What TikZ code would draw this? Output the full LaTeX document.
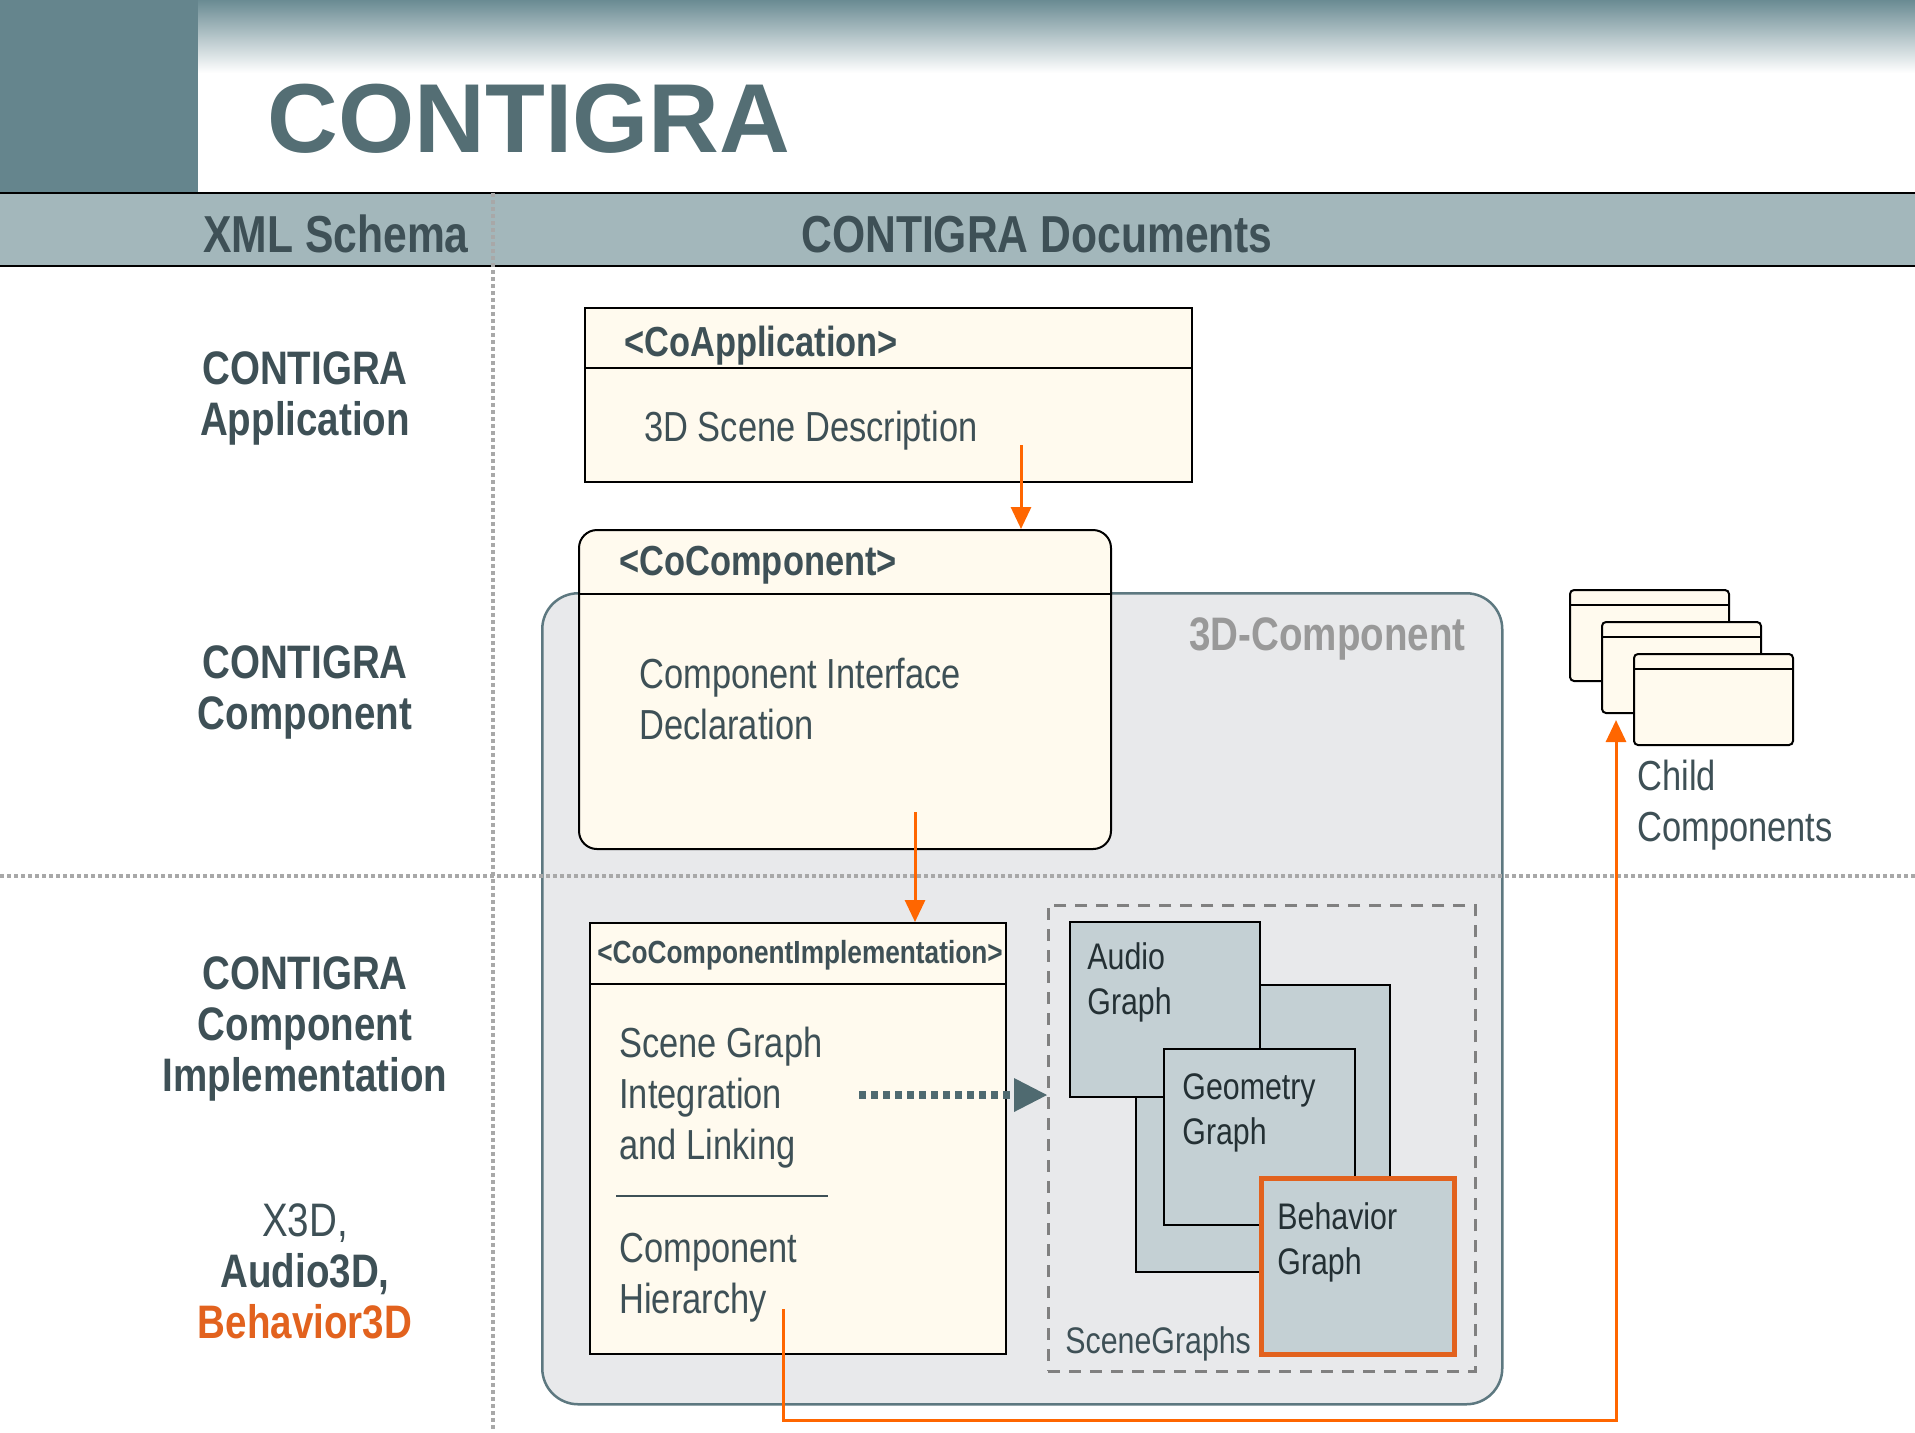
\documentclass[tikz,border=0pt]{standalone}
\usepackage{fontspec}
\setmainfont{Liberation Sans}
\newfontfamily\narrowfont[FakeStretch=0.82]{Liberation Sans}
\usepackage{tikz}
\usetikzlibrary{arrows.meta, positioning}

\definecolor{blockteal}{HTML}{65858D}
\definecolor{gradteal}{HTML}{6A8B93}
\definecolor{bandteal}{HTML}{A3B7BB}
\definecolor{titleteal}{HTML}{546E74}
\definecolor{textdark}{HTML}{3E5056}
\definecolor{cream}{HTML}{FFFAEE}
\definecolor{compgray}{HTML}{E8E9EB}
\definecolor{compborder}{HTML}{5D7880}
\definecolor{graphfill}{HTML}{C4D0D4}
\definecolor{graphtext}{HTML}{243034}
\definecolor{orangeline}{HTML}{FF6600}
\definecolor{behaviororange}{HTML}{E2621E}
\definecolor{dotgray}{HTML}{A8A8A8}
\definecolor{dashgray}{HTML}{808080}
\definecolor{labelgray}{HTML}{999999}
\definecolor{linkteal}{HTML}{4F6A70}

\begin{document}
\begin{tikzpicture}[x=0.5pt, y=-0.5pt]

    % Define styles for the nodes
    \tikzstyle{docbox} = [
        rectangle, draw=black, line width=1pt, fill=cream,
        anchor=north west, inner sep=0pt
    ]
    \tikzstyle{graphbox} = [
        rectangle, draw=black, line width=1pt, fill=graphfill,
        anchor=north west, inner sep=0pt
    ]
    \tikzstyle{childbox} = [
        docbox, rounded corners=2pt, minimum width=79.5pt, minimum height=45.5pt
    ]
    \tikzstyle{boxhead} = [
        anchor=west, inner sep=0pt, text=textdark,
        font=\narrowfont\bfseries\fontsize{21}{25.5}\selectfont
    ]
    \tikzstyle{boxtext} = [
        anchor=west, inner sep=0pt, align=left, text=textdark,
        font=\narrowfont\fontsize{21}{25.5}\selectfont
    ]
    \tikzstyle{graphlabel} = [
        anchor=west, inner sep=0pt, align=left, text=graphtext,
        font=\narrowfont\fontsize{18.5}{22.5}\selectfont
    ]
    \tikzstyle{rowlabel} = [
        inner sep=0pt, align=center, text=textdark,
        font=\narrowfont\bfseries\fontsize{23.5}{25.5}\selectfont
    ]
    \tikzstyle{colhead} = [
        anchor=base, inner sep=0pt, text=textdark,
        font=\narrowfont\bfseries\fontsize{26}{30}\selectfont
    ]
    \tikzstyle{gridline} = [draw=dotgray, line width=2pt, dash pattern=on 2pt off 1.5pt]
    \tikzstyle{arrow} = [draw=orangeline, line width=1.5pt, -{Triangle[length=11pt, width=10pt]}]
    \tikzstyle{linkarrow} = [
        draw=linkteal, line width=4pt, dash pattern=on 3.5pt off 2.5pt,
        -{Triangle[length=16.5pt, width=17pt, line width=0pt]}
    ]

    \useasboundingbox [fill=white] (0,0) rectangle (1915,1432);

    % Title bar
    \shade [top color=gradteal, bottom color=white] (198,0) rectangle (1915,73);
    \fill [blockteal] (0,0) rectangle (198,193);
    \node (title) [anchor=base west, inner sep=0pt, text=titleteal,
        font=\bfseries\fontsize{49}{58}\selectfont] at (267,152) {CONTIGRA};

    % Column headers
    \fill [bandteal] (0,193) rectangle (1915,266);
    \draw [line width=1.25pt] (0,193) -- (1915,193);
    \draw [line width=1pt] (0,266) -- (1915,266);
    \node (schemahead) [colhead] at (336,252) {XML Schema};
    \node (dochead) [colhead] at (1037,252) {CONTIGRA Documents};
    \draw [gridline] (493,193) -- (493,1432);

    % Row labels
    \node (lblapp) [rowlabel] at (305,398) {CONTIGRA\\Application};
    \node (lblcomp) [rowlabel] at (305,692) {CONTIGRA\\Component};
    \node (lblimpl) [rowlabel] at (305,1029) {CONTIGRA\\Component\\Implementation};
    \node (lblformats) [rowlabel] at (305,1271)
        {{\mdseries X3D,}\\Audio3D,\\\textcolor{behaviororange}{Behavior3D}};

    % 3D component frame
    \node (comp3d) [rectangle, rounded corners=18pt, draw=compborder, line width=1.25pt,
        fill=compgray, anchor=north west, minimum width=480pt, minimum height=405.5pt]
        at (541,592) {};
    \node (complabel) [anchor=east, inner sep=0pt, text=labelgray,
        font=\narrowfont\bfseries\fontsize{23.5}{27}\selectfont] at (1466,639) {3D-Component};
    \draw [gridline] (0,876) -- (1915,876);

    % Documents
    \node (coapp) [docbox, minimum width=303.5pt, minimum height=87pt] at (584,307) {};
    \draw [line width=1pt] ([yshift=-30.5pt]coapp.north west) -- ([yshift=-30.5pt]coapp.north east);
    \node (apphead) [boxhead] at (624,346) {<CoApplication>};
    \node (apptext) [boxtext] at (644,431) {3D Scene Description};

    \node (cocomp) [docbox, rounded corners=9pt, minimum width=266pt, minimum height=159.5pt]
        at (578,529) {};
    \draw [line width=1pt] ([yshift=-32.5pt]cocomp.north west) -- ([yshift=-32.5pt]cocomp.north east);
    \node (comphead) [boxhead] at (619,565) {<CoComponent>};
    \node (comptext) [boxtext] at (639,698.5) {Component Interface\\Declaration};

    \node (impl) [docbox, minimum width=208pt, minimum height=215.5pt] at (589,922) {};
    \draw [line width=1pt] ([yshift=-31pt]impl.north west) -- ([yshift=-31pt]impl.north east);
    \node (implhead) [boxhead, font=\narrowfont\bfseries\fontsize{16}{19}\selectfont]
        at (597,955) {<CoComponentImplementation>};
    \node (impltext) [boxtext] at (619,1098) {Scene Graph\\Integration\\and Linking};
    \draw [draw=textdark, line width=1pt] (616,1196) -- (828,1196);
    \node (hiertext) [boxtext] at (619,1278) {Component\\Hierarchy};

    % Scene graphs
    \node (scenes) [rectangle, draw=dashgray, line width=1.25pt, dash pattern=on 6pt off 4.5pt,
        anchor=north west, minimum width=213.5pt, minimum height=233pt] at (1047,904) {};
    \node (sceneslabel) [graphlabel, text=textdark] at (1065,1344) {SceneGraphs};
    \node (backgraph) [graphbox, minimum width=127pt, minimum height=143.5pt] at (1135,984) {};
    \node (audio) [graphbox, minimum width=95pt, minimum height=87.5pt] at (1069,921) {};
    \node (audiotext) [graphlabel] at (1087,982) {Audio\\Graph};
    \node (geometry) [graphbox, minimum width=95.5pt, minimum height=88pt] at (1163,1048) {};
    \node (geometrytext) [graphlabel] at (1182,1113) {Geometry\\Graph};
    \node (behavior) [graphbox, draw=behaviororange, line width=2.5pt,
        minimum width=96.5pt, minimum height=88pt] at (1259,1176) {};
    \node (behaviortext) [graphlabel] at (1277,1242) {Behavior\\Graph};

    % Child components
    \foreach \i/\d in {1/0, 2/32, 3/64} {
        \node (child\i) [childbox] at (1569+\d,589+\d) {};
        \draw [line width=1pt] ([yshift=-8pt]child\i.north west) -- ([yshift=-8pt]child\i.north east);
    }
    \node (childtext) [boxtext] at (1637,805.5) {Child\\Components};

    % Arrows
    \coordinate (appout) at (1021,445);
    \coordinate (compout) at (915,812);
    \coordinate (hierout) at (783,1309);
    \coordinate (linkout) at (859,1095);
    \draw [arrow] (appout) -- (appout |- cocomp.north);
    \draw [arrow] (compout) -- (compout |- impl.north);
    \draw [arrow, shorten >=3pt] (hierout) -- ++(0,111) -| ([xshift=7.5pt]child2.south west);
    \draw [linkarrow] (linkout) -- (scenes.west |- linkout);

\end{tikzpicture}
\end{document}
